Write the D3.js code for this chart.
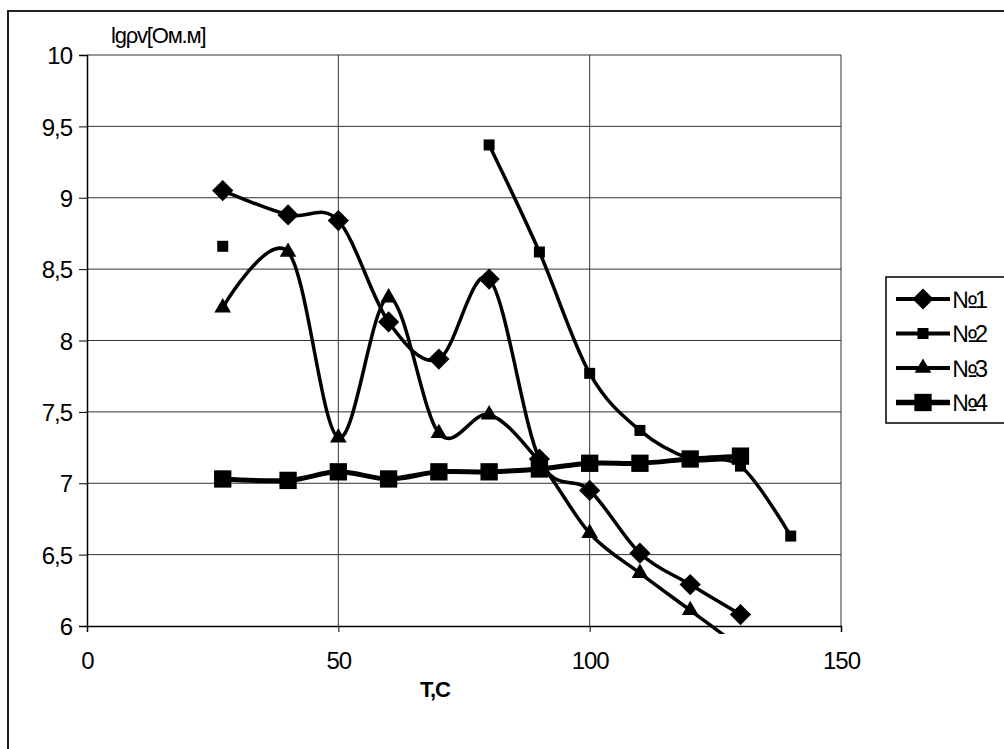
<!DOCTYPE html>
<html>
<head>
<meta charset="utf-8">
<script src="https://cdn.jsdelivr.net/npm/d3@7"></script>
<style>
  body { margin: 0; background: #fff; }
  svg { display: block; font-family: "Liberation Sans", Arial, sans-serif; }
</style>
</head>
<body>
<svg id="chart" width="1004" height="749"></svg>
<script>
// Temperatures (x) and measured lg values per sample
const temps = [27, 40, 50, 60, 70, 80, 90, 100, 110, 120, 130, 140];
const s1 = [9.05, 8.88, 8.84, 8.13, 7.87, 8.43, 7.17, 6.95, 6.51, 6.29, 6.08, null];
const s2 = [8.66, null, null, null, null, 9.37, 8.62, 7.77, 7.37, 7.17, 7.12, 6.63];
const s3 = [8.23, 8.62, 7.32, 8.30, 7.35, 7.48, 7.15, 6.65, 6.37, 6.11, 5.85, null];
const s4 = [7.03, 7.02, 7.08, 7.03, 7.08, 7.08, 7.10, 7.14, 7.14, 7.17, 7.19, null];
const seriesNames = ["№1", "№2", "№3", "№4"];
const xTicks = [0, 50, 100, 150];
const yTicks = [6, 6.5, 7, 7.5, 8, 8.5, 9, 9.5, 10];

const svg = d3.select("#chart");

// Outer frame (cut off on the right and bottom like the original)
svg.append("rect")
    .attr("x", 8).attr("y", 11)
    .attr("width", 1100).attr("height", 800)
    .attr("fill", "none").attr("stroke", "#222").attr("stroke-width", 2);

// Scales
const x = d3.scaleLinear().domain([0, 150]).range([87, 841]);
const y = d3.scaleLinear().domain([6, 10]).range([626, 55]);

// Grid lines
svg.append("g").selectAll("line").data(yTicks.slice(1)).enter().append("line")
    .attr("x1", x(0)).attr("x2", x(150))
    .attr("y1", d => y(d)).attr("y2", d => y(d))
    .attr("stroke", "#333").attr("stroke-width", 1);
svg.append("g").selectAll("line").data(xTicks.slice(1)).enter().append("line")
    .attr("x1", d => x(d)).attr("x2", d => x(d))
    .attr("y1", y(6)).attr("y2", y(10))
    .attr("stroke", "#333").attr("stroke-width", 1);

// Axes
const yAxis = svg.append("g")
    .attr("transform", "translate(" + x(0) + ",0)")
    .call(d3.axisLeft(y).tickValues(yTicks).tickSize(8).tickPadding(7)
        .tickFormat(d => String(d).replace(".", ",")));
const xAxis = svg.append("g")
    .attr("transform", "translate(0," + y(6) + ")")
    .call(d3.axisBottom(x).tickValues(xTicks).tickSize(6).tickPadding(20));
[xAxis, yAxis].forEach(a => {
    a.select(".domain").attr("stroke", "#000").attr("stroke-width", 1.5);
    a.selectAll(".tick line").attr("stroke", "#000");
    a.selectAll(".tick text")
        .attr("font-size", 24).attr("fill", "#000")
        .attr("font-family", "Liberation Sans, Arial, sans-serif")
        .attr("letter-spacing", -1);
});
yAxis.selectAll(".tick text").attr("dy", "0.36em");

// Axis titles
svg.append("text")
    .attr("x", 435).attr("y", 697)
    .attr("text-anchor", "middle")
    .attr("font-size", 22).attr("font-weight", "bold")
    .attr("letter-spacing", -1)
    .text("T,C");
svg.append("text")
    .attr("x", 111).attr("y", 43)
    .attr("font-size", 22).attr("letter-spacing", -1.2)
    .text("lgρv[Ом.м]");

// Clip to plot area
svg.append("clipPath").attr("id", "plot-clip")
    .append("rect")
    .attr("x", x(0)).attr("y", y(10))
    .attr("width", x(150) - x(0)).attr("height", y(6) - y(10) + 8);

// Marker definitions (diamond = square turned 45 degrees)
const markers = [
    { type: d3.symbolSquare, size: 225, rot: 45, width: 3.5 },
    { type: d3.symbolSquare, size: 121, rot: 0, width: 3.5 },
    { type: d3.symbolTriangle, size: 120, rot: 0, width: 3.5 },
    { type: d3.symbolSquare, size: 300, rot: 0, width: 5 }
];

const line = d3.line()
    .defined(d => d.v !== null)
    .x(d => x(d.t))
    .y(d => y(d.v))
    .curve(d3.curveCatmullRom.alpha(0));

const plot = svg.append("g").attr("clip-path", "url(#plot-clip)");

[s1, s2, s3, s4].forEach((vals, i) => {
    const data = temps.map((t, j) => ({ t: t, v: vals[j] }));
    const m = markers[i];
    plot.append("path")
        .datum(data)
        .attr("fill", "none")
        .attr("stroke", "#000")
        .attr("stroke-width", m.width)
        .attr("stroke-linejoin", "round")
        .attr("d", line);
    plot.selectAll(".pt" + i)
        .data(data.filter(d => d.v !== null && d.v >= 6))
        .enter().append("path")
        .attr("class", "pt" + i)
        .attr("transform", d => "translate(" + x(d.t) + "," + y(d.v) + ") rotate(" + m.rot + ")")
        .attr("d", d3.symbol().type(m.type).size(m.size))
        .attr("fill", "#000");
});

// Legend
const legend = svg.append("g");
legend.append("rect")
    .attr("x", 886).attr("y", 277)
    .attr("width", 200).attr("height", 146)
    .attr("fill", "#fff").attr("stroke", "#000").attr("stroke-width", 1.5);
seriesNames.forEach((name, i) => {
    const ly = 299 + i * 34.5;
    const m = markers[i];
    legend.append("line")
        .attr("x1", 896).attr("x2", 950)
        .attr("y1", ly).attr("y2", ly)
        .attr("stroke", "#000").attr("stroke-width", m.width + 0.5);
    legend.append("path")
        .attr("transform", "translate(923," + ly + ") rotate(" + m.rot + ")")
        .attr("d", d3.symbol().type(m.type).size(m.size))
        .attr("fill", "#000");
    legend.append("text")
        .attr("x", 952).attr("y", ly).attr("dy", "0.36em")
        .attr("font-size", 24).attr("letter-spacing", -3)
        .text(name);
});
</script>
</body>
</html>
